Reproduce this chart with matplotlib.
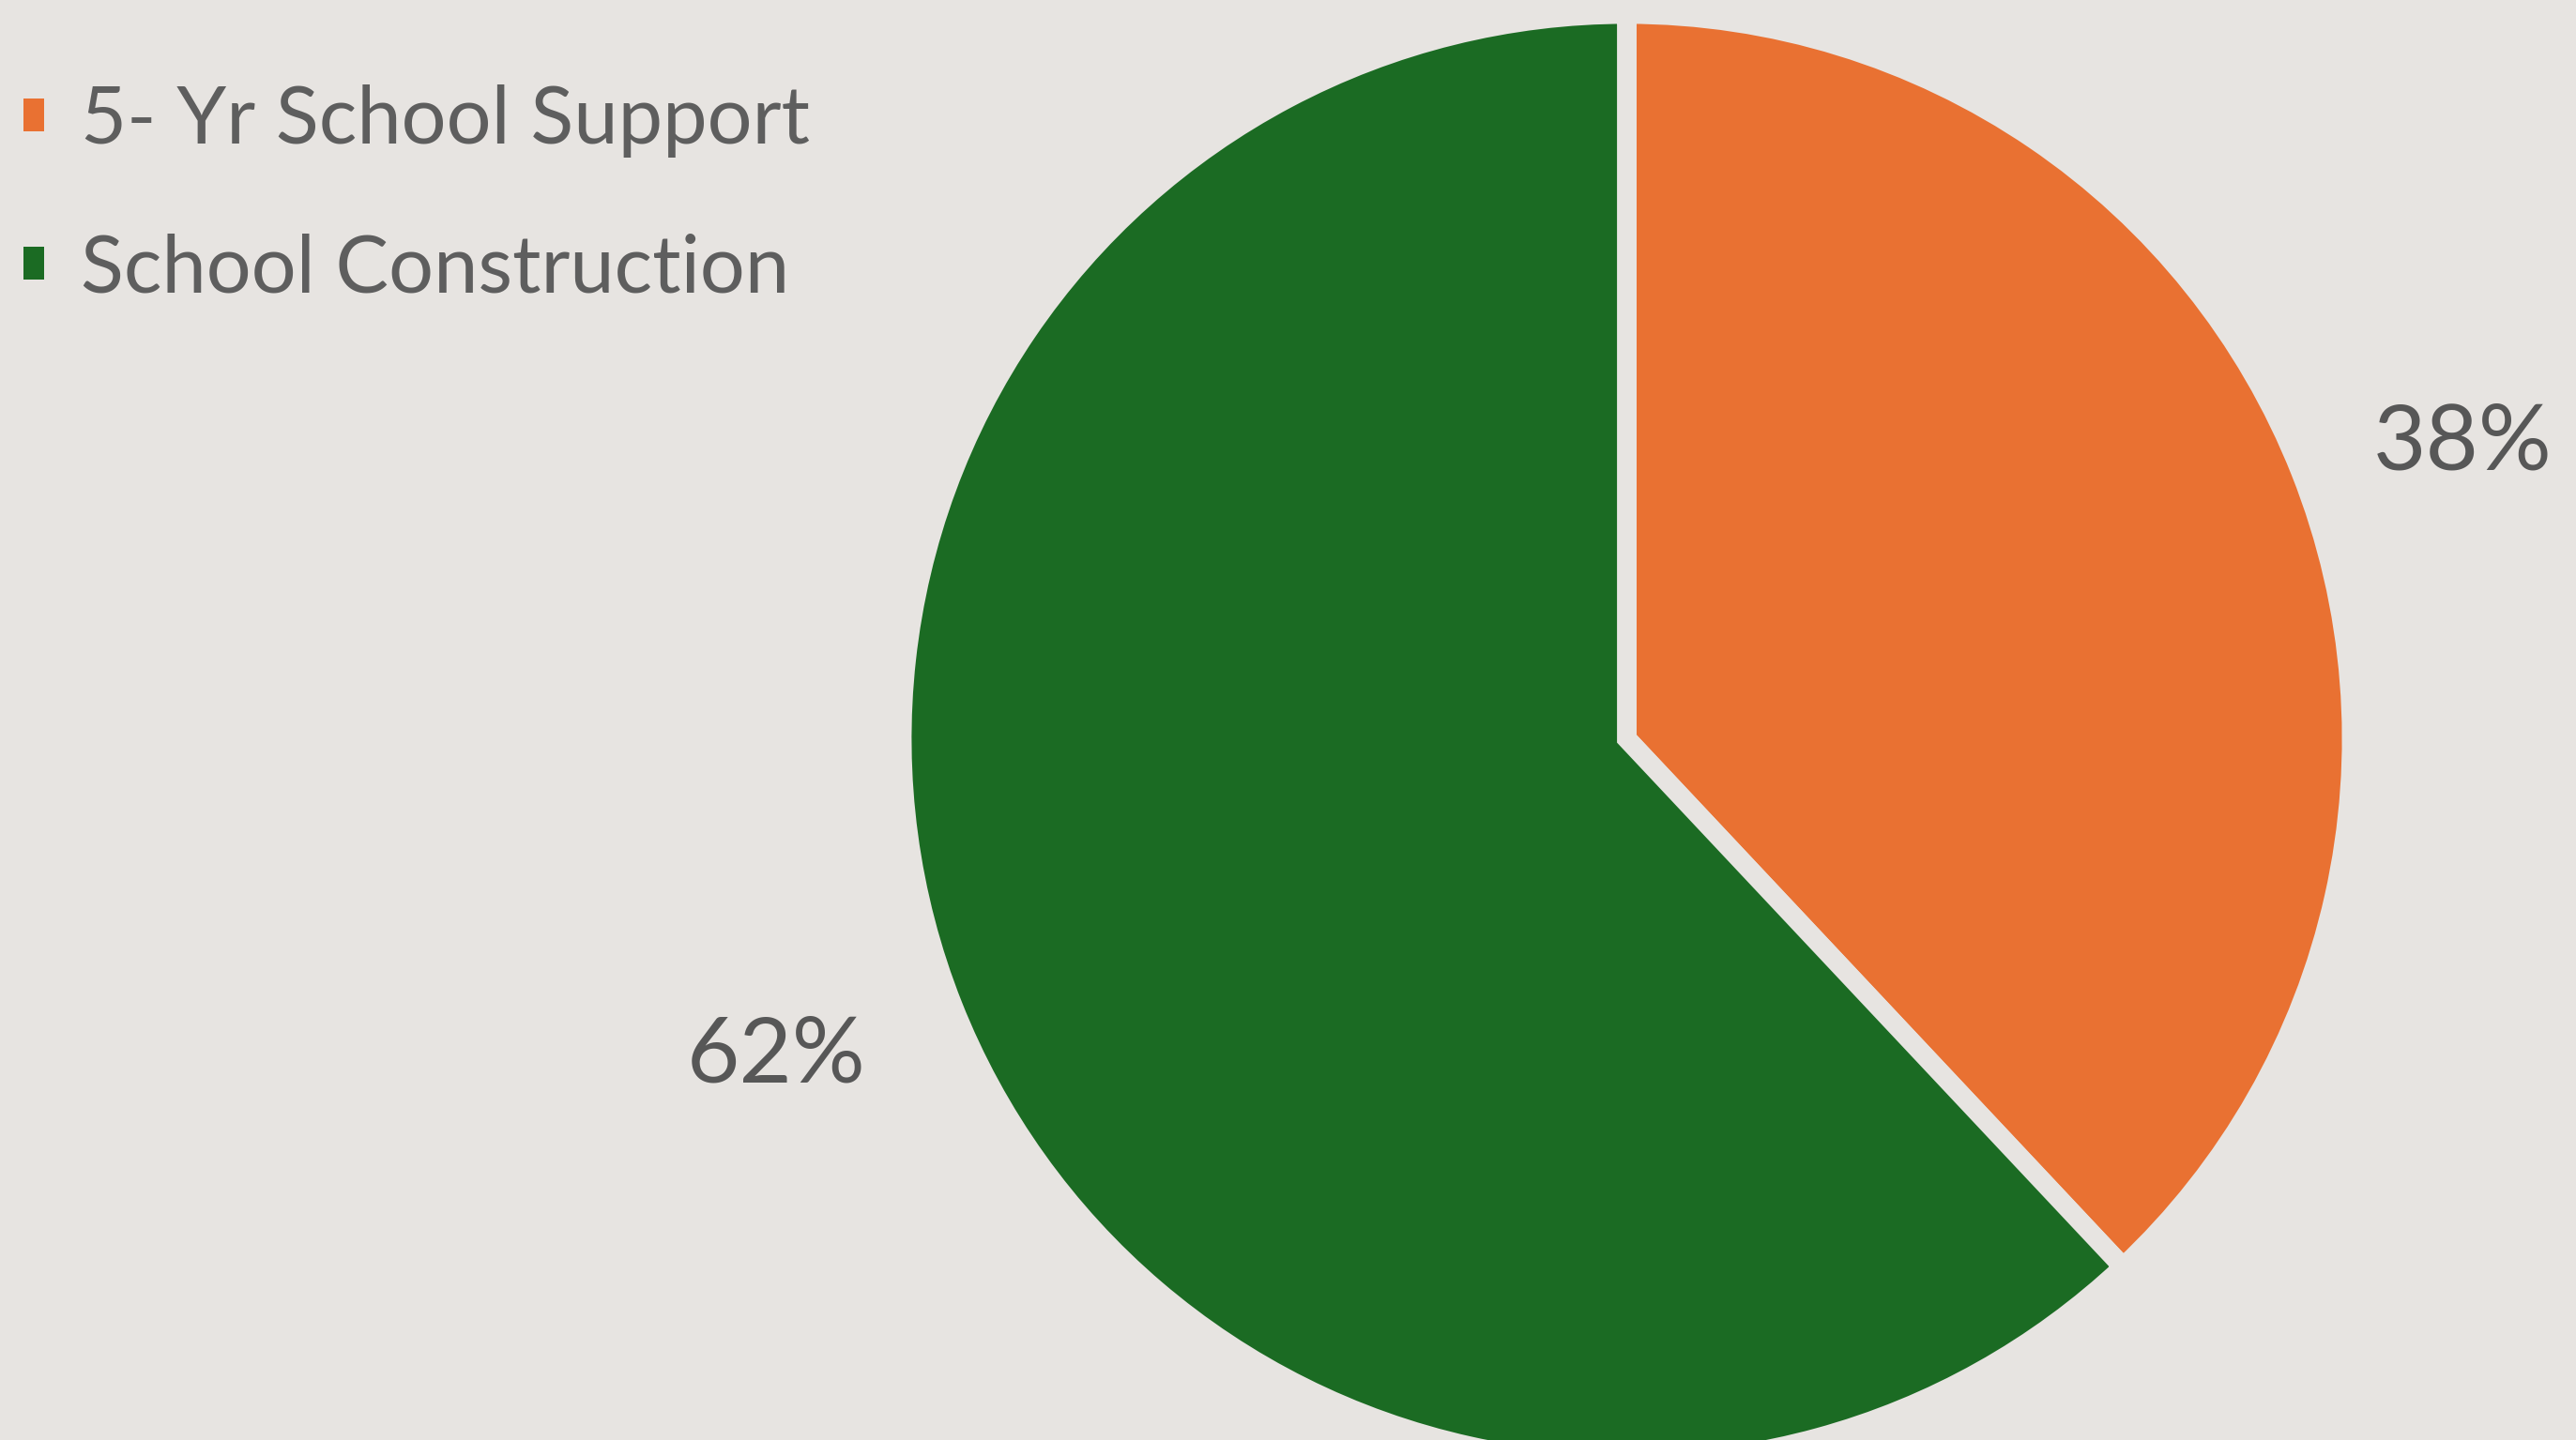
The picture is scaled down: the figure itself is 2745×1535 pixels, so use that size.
import matplotlib.pyplot as plt
from matplotlib.patches import Patch

categories = ["5- Yr School Support", "School Construction"]
shares = [38, 62]
colors = ["#E97132", "#1B6B23"]

BG = "#E7E4E1"

plt.rcParams["font.family"] = ["Lato", "DejaVu Sans"]


def main():
    fig = plt.figure(figsize=(27.45, 15.35), dpi=100, facecolor=BG)
    # pie axes, square, centred near (1733, 788) px from top-left
    ax = fig.add_axes([961 / 2745, -25 / 1535, 1545 / 2745, 1545 / 1535])
    ax.set_facecolor(BG)
    wedges, texts, autotexts = ax.pie(
        shares,
        colors=colors,
        startangle=90,
        counterclock=False,
        autopct="%d%%",
        pctdistance=1.24,
        wedgeprops=dict(edgecolor=BG, linewidth=15),
        textprops=dict(fontsize=70, color="#575757"),
    )
    # small nudges so the labels sit where they do in the source
    x, y = autotexts[0].get_position()
    autotexts[0].set_position((x, y - 0.05))
    x, y = autotexts[1].get_position()
    autotexts[1].set_position((x - 0.02, y + 0.018))
    ax.set_xlim(-1, 1)
    ax.set_ylim(-1, 1)
    ax.set_aspect("equal")

    handles = [Patch(facecolor=c, edgecolor="none") for c in colors]
    fig.legend(
        handles,
        categories,
        loc="upper left",
        bbox_to_anchor=(0.0, 0.958),
        frameon=False,
        labelcolor="#5E5E5E",
        handlelength=0.26,
        handleheight=0.26,
        handletextpad=0.45,
        labelspacing=0.95,
        borderaxespad=0.0,
        borderpad=0.3,
        prop=dict(size=61),
    )

    fig.savefig("out.png", dpi=100, facecolor=BG)


if __name__ == "__main__":
    main()
